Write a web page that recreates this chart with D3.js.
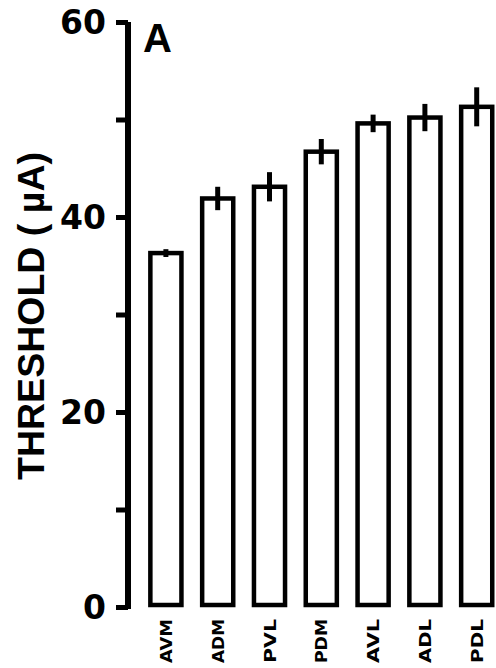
<!DOCTYPE html>
<html>
<head>
<meta charset="utf-8">
<script src="https://cdn.jsdelivr.net/npm/d3@7"></script>
<style>
  body { margin: 0; background: #fff; }
  text { font-family: "DejaVu Sans", sans-serif; font-weight: bold; fill: #000; }
</style>
</head>
<body>
<div id="chart"></div>
<script>
const regions = ["AVM", "ADM", "PVL", "PDM", "AVL", "ADL", "PDL"];
const thresholds = [36.3, 41.9, 43.1, 46.7, 49.6, 50.2, 51.3];
const errors = [0.4, 1.2, 1.5, 1.3, 0.9, 1.4, 2.0];
const tickLabels = [0, 20, 40, 60];
const tickMarks = [0, 10, 20, 30, 40, 50, 60];

const width = 496, height = 668;

const svg = d3.select("#chart").append("svg")
  .attr("width", width)
  .attr("height", height);

const x = d3.scaleBand()
  .domain(regions)
  .range([140, 502.6])
  .paddingInner(0.4)
  .paddingOuter(0.2);

const y = d3.scaleLinear()
  .domain([0, 60])
  .range([607, 22]);

// bars
svg.selectAll(".bar")
  .data(regions)
  .enter()
  .append("rect")
  .attr("class", "bar")
  .attr("x", d => x(d))
  .attr("y", (d, i) => y(thresholds[i]))
  .attr("width", x.bandwidth())
  .attr("height", (d, i) => y(0) - 2 - y(thresholds[i]))
  .attr("fill", "#fff")
  .attr("stroke", "#000")
  .attr("stroke-width", 4.5);

// error bars
svg.selectAll(".err")
  .data(regions)
  .enter()
  .append("line")
  .attr("class", "err")
  .attr("x1", d => x(d) + x.bandwidth() / 2)
  .attr("x2", d => x(d) + x.bandwidth() / 2)
  .attr("y1", (d, i) => y(thresholds[i] + errors[i]))
  .attr("y2", (d, i) => y(thresholds[i] - errors[i]))
  .attr("stroke", "#000")
  .attr("stroke-width", 5);

// y axis
const axis = svg.append("g")
  .attr("transform", "translate(128,0)")
  .call(d3.axisLeft(y).tickValues(tickMarks).tickSize(12).tickFormat(""));

axis.select(".domain")
  .attr("d", `M0,${y(60)}V${y(0) + 2}`)
  .attr("stroke", "#000")
  .attr("stroke-width", 6);
axis.selectAll(".tick line")
  .attr("stroke", "#000")
  .attr("stroke-width", 5);

svg.selectAll(".ylab")
  .data(tickLabels)
  .enter()
  .append("text")
  .attr("class", "ylab")
  .attr("x", 106)
  .attr("y", d => y(d) + 12)
  .attr("text-anchor", "end")
  .style("font-size", "33px")
  .text(d => d);

// category labels
svg.selectAll(".xlab")
  .data(regions)
  .enter()
  .append("text")
  .attr("class", "xlab")
  .attr("transform", d => `translate(${x(d) + x.bandwidth() / 2 + 6},619) rotate(-90)`)
  .attr("text-anchor", "end")
  .attr("textLength", 44)
  .attr("lengthAdjust", "spacingAndGlyphs")
  .style("font-size", "16px")
  .text(d => d);

// axis title
svg.append("text")
  .attr("transform", "translate(44,316) rotate(-90)")
  .attr("text-anchor", "middle")
  .attr("textLength", 328)
  .attr("lengthAdjust", "spacingAndGlyphs")
  .style("font-size", "37px")
  .style("font-family", "'Liberation Sans', Arial, sans-serif")
  .text("THRESHOLD ( \u00b5A)");

// panel letter
svg.append("text")
  .attr("x", 143)
  .attr("y", 52)
  .style("font-size", "40px")
  .style("font-family", "'Liberation Sans', Arial, sans-serif")
  .text("A");
</script>
</body>
</html>
